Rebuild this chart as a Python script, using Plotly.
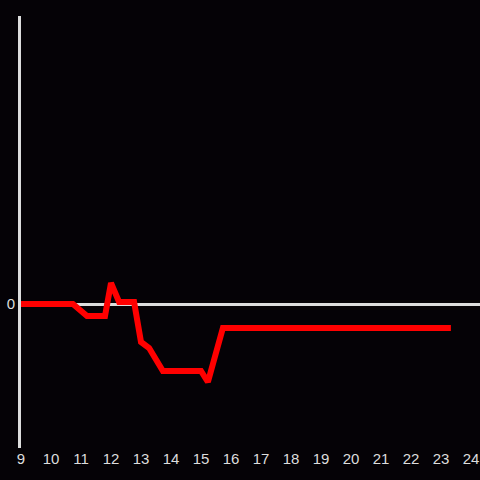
import plotly.graph_objects as go

# hours of day and values
hours = [9, 10.73, 11.2, 11.8, 12.0, 12.27, 12.77, 13.0, 13.27, 13.73, 15.0, 15.23, 15.73, 23.33]
values = [0, 0, -1.2, -1.2, 2.1, 0.2, 0.2, -3.8, -4.4, -6.7, -6.7, -7.8, -2.4, -2.4]
x_ticks = list(range(9, 25))

fig = go.Figure()
fig.add_trace(go.Scatter(
    x=hours, y=values, mode='lines',
    line=dict(color='#ff0000', width=6),
    showlegend=False, hoverinfo='skip'
))

fig.update_layout(
    width=480, height=480,
    margin=dict(l=21, r=0, t=16, b=32),
    paper_bgcolor='#050206',
    plot_bgcolor='#050206',
    font=dict(family='Liberation Sans, Arial, sans-serif', size=15, color='#dddddd'),
)
fig.update_xaxes(
    range=[9, 24.3], tickvals=x_ticks, showgrid=False, zeroline=False,
    showline=False, ticks='', automargin=False,
    tickfont=dict(size=15, color='#dddddd')
)
fig.update_yaxes(
    range=[-14.4, 28.8], tickvals=[0], showgrid=False,
    zeroline=True, zerolinecolor='#dddddd', zerolinewidth=3,
    showline=True, linecolor='#dddddd', linewidth=3, ticks='', automargin=False,
    tickfont=dict(size=15, color='#dddddd')
)

# drop the default page margin so the figure sits flush in the window
fig.write_html("out.html", config={'displayModeBar': False},
               post_script="document.body.style.margin='0';")
